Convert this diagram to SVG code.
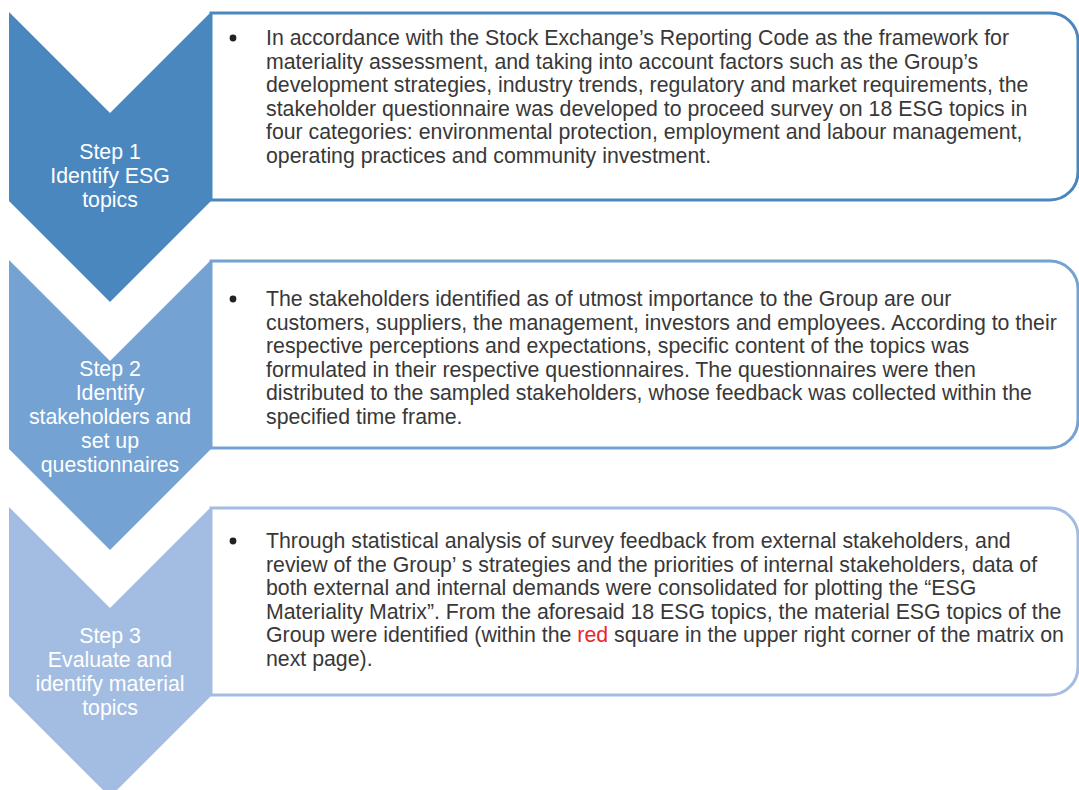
<svg xmlns="http://www.w3.org/2000/svg" width="1079" height="790" viewBox="0 0 1079 790">
<style>
.box{fill:#ffffff;stroke-width:3}
.body{font-family:"Liberation Sans",Arial,sans-serif;font-size:21.3px;fill:#383838}
.step{font-family:"Liberation Sans",Arial,sans-serif;font-size:21.3px;fill:#ffffff;text-anchor:middle}
.bullet{fill:#222222}
</style>
<rect width="1079" height="790" fill="#ffffff"/>
<g id="step1">
<path class="box" stroke="#4a87bf" d="M211,13 H1050 A28,28 0 0 1 1078,41 V172 A28,28 0 0 1 1050,200 H211 Z"/>
<polygon fill="#4a87bf" points="9,12 110,113 211,12 211,201 110,302 9,201"/>
<text class="step"><tspan x="110" y="159">Step 1</tspan><tspan x="110" y="183">Identify ESG</tspan><tspan x="110" y="207">topics</tspan></text>
<circle class="bullet" cx="233" cy="38" r="3.4"/>
<text class="body"><tspan x="266" y="45">In accordance with the Stock Exchange’s Reporting Code as the framework for</tspan><tspan x="266" y="68.5">materiality assessment, and taking into account factors such as the Group’s</tspan><tspan x="266" y="92">development strategies, industry trends, regulatory and market requirements, the</tspan><tspan x="266" y="115.5">stakeholder questionnaire was developed to proceed survey on 18 ESG topics in</tspan><tspan x="266" y="139">four categories: environmental protection, employment and labour management,</tspan><tspan x="266" y="162.5">operating practices and community investment.</tspan></text>
</g>
<g id="step2">
<path class="box" stroke="#73a2d3" d="M211,261 H1050 A28,28 0 0 1 1078,289 V420 A28,28 0 0 1 1050,448 H211 Z"/>
<polygon fill="#73a2d3" points="9,260 110,361 211,260 211,449 110,550 9,449"/>
<text class="step"><tspan x="110" y="376">Step 2</tspan><tspan x="110" y="400">Identify</tspan><tspan x="110" y="424">stakeholders and</tspan><tspan x="110" y="448">set up</tspan><tspan x="110" y="472">questionnaires</tspan></text>
<circle class="bullet" cx="233" cy="299" r="3.4"/>
<text class="body"><tspan x="266" y="306">The stakeholders identified as of utmost importance to the Group are our</tspan><tspan x="266" y="329.6">customers, suppliers, the management, investors and employees. According to their</tspan><tspan x="266" y="353.2">respective perceptions and expectations, specific content of the topics was</tspan><tspan x="266" y="376.8">formulated in their respective questionnaires. The questionnaires were then</tspan><tspan x="266" y="400.4">distributed to the sampled stakeholders, whose feedback was collected within the</tspan><tspan x="266" y="424">specified time frame.</tspan></text>
</g>
<g id="step3">
<path class="box" stroke="#a3bde2" d="M211,508 H1050 A28,28 0 0 1 1078,536 V667 A28,28 0 0 1 1050,695 H211 Z"/>
<polygon fill="#a3bde2" points="9,507 110,608 211,507 211,696 110,797 9,696"/>
<text class="step"><tspan x="110" y="643">Step 3</tspan><tspan x="110" y="667">Evaluate and</tspan><tspan x="110" y="691">identify material</tspan><tspan x="110" y="715">topics</tspan></text>
<circle class="bullet" cx="233" cy="541" r="3.4"/>
<text class="body"><tspan x="266" y="548">Through statistical analysis of survey feedback from external stakeholders, and</tspan><tspan x="266" y="571.6">review of the Group’ s strategies and the priorities of internal stakeholders, data of</tspan><tspan x="266" y="595.2">both external and internal demands were consolidated for plotting the “ESG</tspan><tspan x="266" y="618.8">Materiality Matrix”. From the aforesaid 18 ESG topics, the material ESG topics of the</tspan><tspan x="266" y="642.4">Group were identified (within the <tspan fill="#e8262b">red</tspan> square in the upper right corner of the matrix on</tspan><tspan x="266" y="666">next page).</tspan></text>
</g>
<g id="connectors"></g>
</svg>
